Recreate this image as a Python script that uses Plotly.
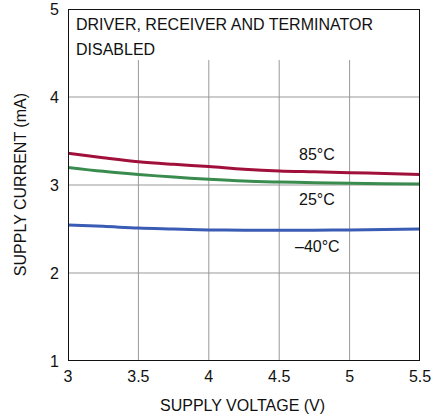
import plotly.graph_objects as go

voltage = [3.0, 3.25, 3.5, 3.75, 4.0, 4.25, 4.5, 4.75, 5.0, 5.25, 5.5]
i_85 = [3.36, 3.31, 3.265, 3.235, 3.21, 3.18, 3.16, 3.15, 3.14, 3.13, 3.12]
i_25 = [3.20, 3.155, 3.12, 3.09, 3.065, 3.045, 3.034, 3.026, 3.02, 3.015, 3.01]
i_m40 = [2.545, 2.53, 2.51, 2.50, 2.49, 2.487, 2.485, 2.487, 2.49, 2.495, 2.50]
labels = ["85°C", "25°C", "–40°C"]
label_x = [4.77, 4.77, 4.77]
label_y = [3.35, 2.83, 2.30]
x_ticks = [3, 3.5, 4, 4.5, 5, 5.5]
x_tick_text = ["3", "3.5", "4", "4.5", "5", "5.5"]
y_ticks = [1, 2, 3, 4, 5]
x_grid = [3.5, 4, 4.5, 5]
y_grid = [2, 3, 4]
grid_top = 4.42

FONT = "Liberation Sans, Arial, sans-serif"
FS = 16
TXT = "#111111"

fig = go.Figure()
colors = ["#A0103A", "#3A8C4E", "#3A5CB4"]
for ys, c in zip([i_85, i_25, i_m40], colors):
    fig.add_trace(go.Scatter(x=voltage, y=ys, mode="lines", line=dict(color=c, width=3, shape="spline"),
                             showlegend=False, hoverinfo="skip", cliponaxis=False))

shapes = []
for gx in x_grid:
    shapes.append(dict(type="line", xref="x", yref="y", x0=gx, x1=gx, y0=1, y1=grid_top,
                       line=dict(color="#999999", width=1), layer="below"))
for gy in y_grid:
    shapes.append(dict(type="line", xref="x", yref="y", x0=3, x1=5.5, y0=gy, y1=gy,
                       line=dict(color="#999999", width=1), layer="below"))
shapes.append(dict(type="rect", xref="x", yref="y", x0=3, x1=5.5, y0=1, y1=5,
                   line=dict(color="#111111", width=2)))

annotations = []
for t, ax, ay in zip(labels, label_x, label_y):
    annotations.append(dict(x=ax, y=ay, xref="x", yref="y", text=t, showarrow=False,
                            font=dict(family=FONT, size=FS, color=TXT)))
annotations.append(dict(x=3.04, y=4.82, xref="x", yref="y", text="DRIVER, RECEIVER AND TERMINATOR",
                        showarrow=False, xanchor="left", font=dict(family=FONT, size=FS, color=TXT)))
annotations.append(dict(x=3.04, y=4.545, xref="x", yref="y", text="DISABLED",
                        showarrow=False, xanchor="left", font=dict(family=FONT, size=FS, color=TXT)))
annotations.append(dict(x=0.497, y=-0.125, xref="paper", yref="paper", text="SUPPLY VOLTAGE (V)",
                        showarrow=False, xanchor="center", yanchor="middle",
                        font=dict(family=FONT, size=FS, color=TXT)))
annotations.append(dict(x=-0.136, y=0.5, xref="paper", yref="paper", text="SUPPLY CURRENT (mA)",
                        showarrow=False, textangle=-90, xanchor="center", yanchor="middle",
                        font=dict(family=FONT, size=FS, color=TXT)))

fig.update_layout(
    width=432, height=419,
    margin=dict(l=68, r=12, t=9, b=58),
    paper_bgcolor="white", plot_bgcolor="white",
    shapes=shapes, annotations=annotations,
    font=dict(family=FONT, size=FS, color=TXT),
    xaxis=dict(range=[3, 5.5], tickvals=x_ticks, ticktext=x_tick_text, showgrid=False, zeroline=False,
               ticks="", automargin=False, ticklabelstandoff=4),
    yaxis=dict(range=[1, 5], tickvals=y_ticks, showgrid=False, zeroline=False, ticks="",
               automargin=False, ticklabelstandoff=8),
)

fig.write_html("out.html", config={"displayModeBar": False},
               post_script="document.body.style.margin='0px';")
